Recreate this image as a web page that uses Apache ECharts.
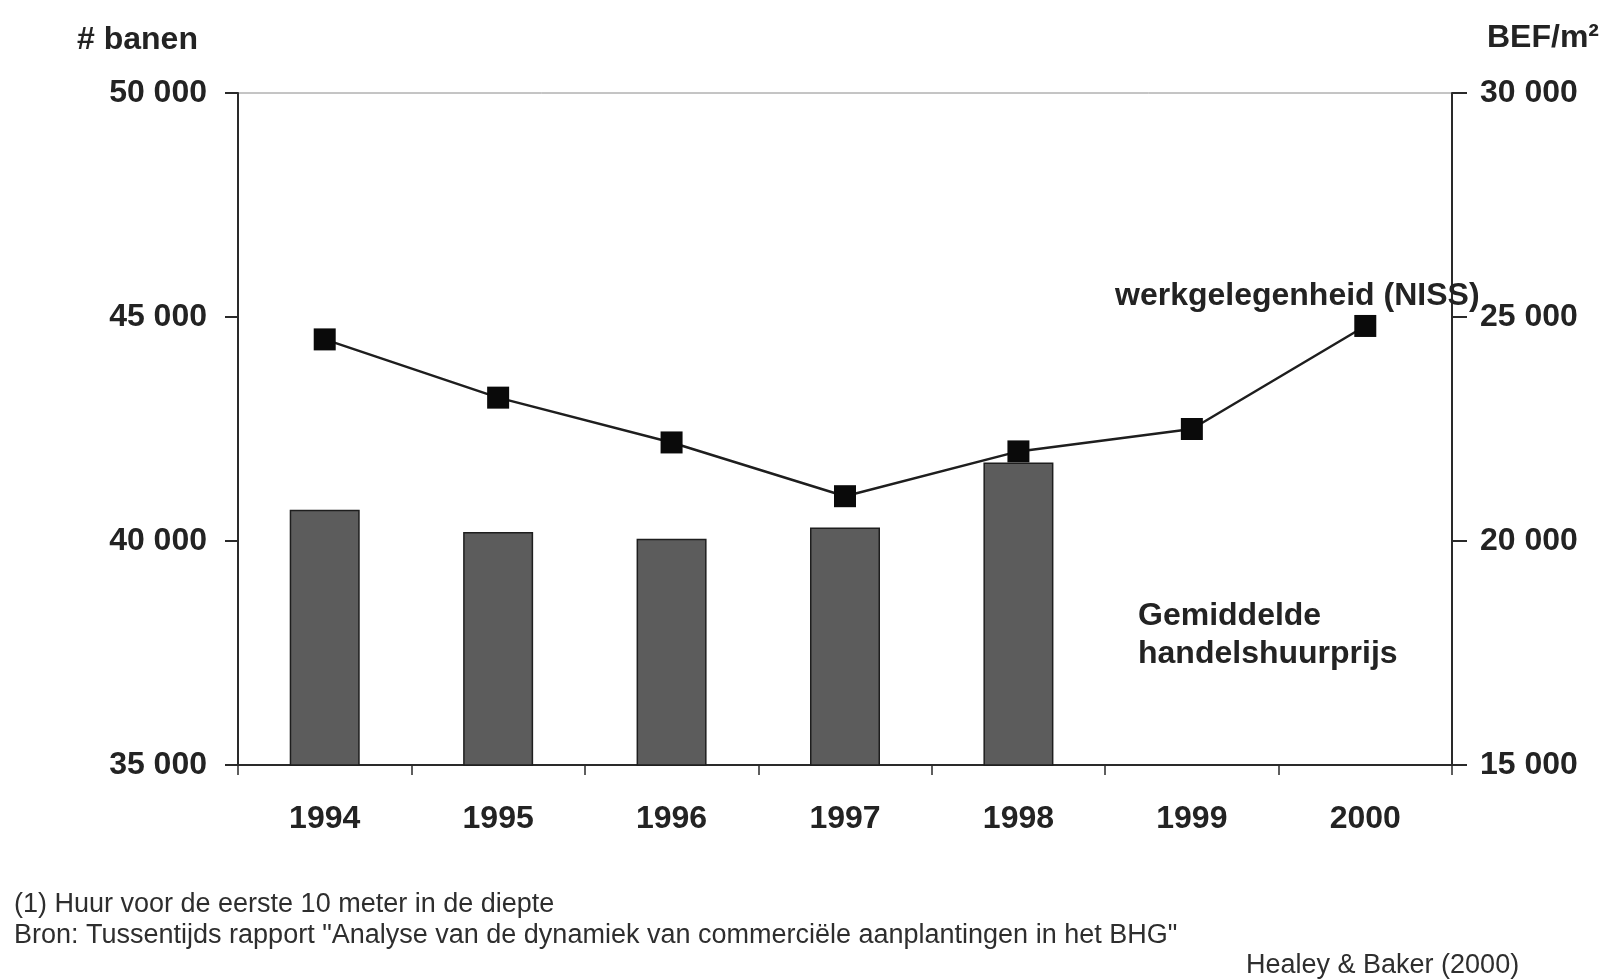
<!DOCTYPE html>
<html>
<head>
<meta charset="utf-8">
<script src="https://cdn.jsdelivr.net/npm/echarts@6/dist/echarts.min.js"></script>
<style>
  html, body { margin: 0; padding: 0; background: #fff; }
  #chart { width: 1608px; height: 980px; }
</style>
</head>
<body>
<div id="chart"></div>
<script>
// Years on the category axis
const years = ['1994', '1995', '1996', '1997', '1998', '1999', '2000'];
// Employment (# banen), left axis
const employment = [44500, 43200, 42200, 41000, 42000, 42500, 44800];
// Average commercial rent (BEF/m²), right axis
const rentPrice = [20700, 20200, 20050, 20300, 21750, null, null];
// Axis ranges and tick steps
const leftAxisRange = [35000, 50000, 5000];
const rightAxisRange = [15000, 30000, 5000];

const FONT = '"Liberation Sans", Arial, sans-serif';
const INK = '#232323';

function spaced(v) {
  return String(v).replace(/\B(?=(\d{3})+(?!\d))/g, ' ');
}

const chart = echarts.init(document.getElementById('chart'));

chart.setOption({
  backgroundColor: '#ffffff',
  animation: false,
  grid: {
    left: 238, right: 156, top: 93, bottom: 215,
    show: true, borderColor: '#8a8a8a', borderWidth: 1,
    containLabel: false
  },
  xAxis: {
    type: 'category',
    data: years,
    boundaryGap: true,
    axisLine: { lineStyle: { color: '#2a2a2a', width: 2 } },
    axisTick: { show: true, length: 10, inside: false, lineStyle: { color: '#2a2a2a', width: 1.5 } },
    axisLabel: { margin: 38, fontSize: 32, fontWeight: 'bold', fontFamily: FONT, color: INK },
    splitLine: { show: false }
  },
  yAxis: [
    {
      type: 'value',
      position: 'left',
      min: leftAxisRange[0], max: leftAxisRange[1], interval: leftAxisRange[2],
      axisLine: { show: true, lineStyle: { color: '#2a2a2a', width: 2 } },
      axisTick: { show: true, length: 13, lineStyle: { color: '#2a2a2a', width: 2 } },
      axisLabel: { margin: 31, fontSize: 32, fontWeight: 'bold', fontFamily: FONT, color: INK, formatter: spaced },
      splitLine: { show: false }
    },
    {
      type: 'value',
      position: 'right',
      min: rightAxisRange[0], max: rightAxisRange[1], interval: rightAxisRange[2],
      axisLine: { show: true, lineStyle: { color: '#2a2a2a', width: 2 } },
      axisTick: { show: true, length: 15, lineStyle: { color: '#2a2a2a', width: 2 } },
      axisLabel: { margin: 28, fontSize: 32, fontWeight: 'bold', fontFamily: FONT, color: INK, formatter: spaced },
      splitLine: { show: false }
    }
  ],
  series: [
    {
      name: 'Gemiddelde handelshuurprijs',
      type: 'bar',
      yAxisIndex: 1,
      data: rentPrice,
      barWidth: 70,
      itemStyle: { color: '#5c5c5c', borderColor: '#1e1e1e', borderWidth: 1.5 },
      z: 2
    },
    {
      name: 'werkgelegenheid (NISS)',
      type: 'line',
      yAxisIndex: 0,
      data: employment,
      symbol: 'rect',
      symbolSize: 22,
      lineStyle: { color: '#1e1e1e', width: 2.5 },
      itemStyle: { color: '#0a0a0a' },
      z: 5
    }
  ],
  graphic: [
    { type: 'text', left: 77, top: 24, style: { text: '# banen', font: 'bold 32px ' + FONT, fill: INK } },
    { type: 'text', left: 1487, top: 22, style: { text: 'BEF/m²', font: 'bold 32px ' + FONT, fill: INK } },
    { type: 'text', left: 1115, top: 280, z: 10, style: { text: 'werkgelegenheid (NISS)', font: 'bold 32px ' + FONT, fill: INK } },
    { type: 'text', left: 1138, top: 597, style: { text: 'Gemiddelde\nhandelshuurprijs', font: 'bold 32px ' + FONT, lineHeight: 38, fill: INK } },
    { type: 'text', left: 14, top: 891, style: { text: '(1) Huur voor de eerste 10 meter in de diepte', font: '27px ' + FONT, fill: '#2e2e2e' } },
    { type: 'text', left: 14, top: 922, style: { text: 'Bron: Tussentijds rapport "Analyse van de dynamiek van commerciële aanplantingen in het BHG"', font: '27px ' + FONT, fill: '#2e2e2e' } },
    { type: 'text', left: 1246, top: 952, style: { text: 'Healey & Baker (2000)', font: '27px ' + FONT, fill: '#2e2e2e' } }
  ]
});
</script>
</body>
</html>
